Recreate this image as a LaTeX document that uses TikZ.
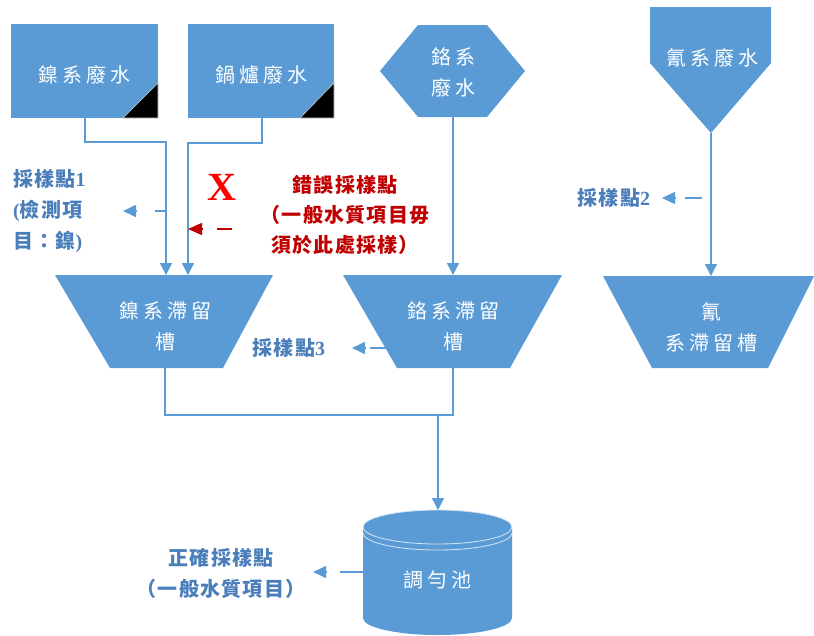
\documentclass[tikz,border=0pt]{standalone}
\usepackage{fontspec}
\newfontfamily\cjk{Noto Sans CJK TC}[LetterSpace=20]
\newfontfamily\cjkl{Noto Sans CJK TC}[LetterSpace=6]
\newfontfamily\lat{Liberation Serif}
\usetikzlibrary{arrows.meta,calc}
\definecolor{boxblue}{HTML}{5B9BD5}
\definecolor{lineblue}{HTML}{5B9BD5}
\definecolor{lblblue}{HTML}{4A7EBB}
\definecolor{errred}{HTML}{C00000}
\begin{document}
\begin{tikzpicture}[x=1pt,y=-1pt,
  shapefill/.style={fill=boxblue},
  shapetext/.style={text=white, font=\cjk\fontsize{20}{31}\selectfont, align=center, inner sep=0pt},
  flow/.style={draw=lineblue, line width=1.3pt, -{Triangle[width=12pt,length=12pt]}},
  flowline/.style={draw=lineblue, line width=1.3pt},
  sampleline/.style={draw=lineblue, line width=1.5pt},
  samplehead/.style={draw=lineblue, line width=1.5pt, -{Triangle[width=12pt,length=13pt]}},
  errline/.style={draw=errred, line width=1.5pt},
  errhead/.style={draw=errred, line width=1.5pt, -{Triangle[width=12pt,length=14pt]}},
  lbl/.style={text=lblblue, font=\cjkl\bfseries\fontsize{20}{31}\selectfont, inner sep=0pt},
  errlbl/.style={text=errred, font=\cjkl\bfseries\fontsize{20}{30}\selectfont, inner sep=0pt, align=center},
  corner/.style={fill=black, draw=white!80!black, line width=0.6pt},
]
\useasboundingbox (0,0) rectangle (814,635);

% ---------- source shapes ----------
\fill[shapefill] (11,24) rectangle (158,118);
\filldraw[corner] (158,83) -- (158,118) -- (123,118) -- cycle;
\node[shapetext] (niw) at (84,75) {鎳系廢水};
\fill[shapefill] (188,24) rectangle (334,118);
\filldraw[corner] (334,83) -- (334,118) -- (300,118) -- cycle;
\node[shapetext] (blw) at (261,75) {鍋爐廢水};
\fill[shapefill] (380,71) -- (418,25) -- (487,25) -- (525,71) -- (487,117) -- (418,117) -- cycle;
\node[shapetext] (crw) at (453,72.5) {鉻系\\廢水};
\fill[shapefill] (650,7) -- (771,7) -- (771,63) -- (711,133) -- (650,63) -- cycle;
\node[shapetext] (cnw) at (712,58) {氰系廢水};

% ---------- tanks ----------
\fill[shapefill] (55,275) -- (273,275) -- (223,368) -- (110,368) -- cycle;
\node[shapetext] (nit) at (165,326) {鎳系滯留\\槽};
\fill[shapefill] (343,275) -- (562,275) -- (510,368) -- (397,368) -- cycle;
\node[shapetext] (crt) at (453,326) {鉻系滯留\\槽};
\fill[shapefill] (603,276) -- (814,276) -- (768,368) -- (652,368) -- cycle;
\node[shapetext] (cnt) at (711,327) {氰\\系滯留槽};

% ---------- equalization pool (cylinder) ----------
\fill[shapefill] (363,527) -- (363,618)
  arc[start angle=180, end angle=360, x radius=74.5pt, y radius=17pt]
  -- (512,527)
  arc[start angle=0, end angle=180, x radius=74.5pt, y radius=17pt] -- cycle;
\draw[white!75!boxblue, line width=0.8pt] (437.5,527) ellipse[x radius=74.5pt, y radius=17pt];
\draw[white!75!boxblue, line width=0.8pt] (363,533)
  arc[start angle=180, end angle=360, x radius=74.5pt, y radius=17pt];
\node[shapetext] (pool) at (437,580) {調勻池};

% ---------- connection points ----------
\coordinate (niwout) at (85,118);
\coordinate (blwout) at (262,118);
\coordinate (crwout) at (453,117);
\coordinate (cnwout) at (711,133);
\coordinate (nitin1) at (166,275);
\coordinate (nitin2) at (188,275);
\coordinate (crtin) at (453,275);
\coordinate (cntin) at (711,276);
\coordinate (nitout) at (165,368);
\coordinate (crtout) at (453,368);
\coordinate (junc) at (438,415);
\coordinate (poolin) at (438,510);

% ---------- flow connectors ----------
\draw[flow] (niwout) -- ++(0,24) -| (nitin1);
\draw[flow] (blwout) -- ++(0,25) -| (nitin2);
\draw[flow] (crwout) -- (crtin);
\draw[flow] (cnwout) -- (cntin);
\draw[flowline] (nitout) -- ++(0,47) -| (crtout);
\draw[flow] (junc) -- (poolin);

% ---------- sampling labels ----------
\node[lbl, align=left, anchor=west] (sp1) at (13,211) {採樣點{\lat\bfseries 1}\\{\lat\bfseries (}檢測項\\目：鎳{\lat\bfseries )}};
\node[text=red, font=\lat\bfseries\fontsize{40}{40}\selectfont, inner sep=0pt] (xmark) at (222,187) {X};
\node[errlbl] (err) at (345,215) {錯誤採樣點\\（一般水質項目毋\\須於此處採樣）};
\node[lbl] (sp2) at (614,198) {採樣點{\lat\bfseries 2}};
\node[lbl] (sp3) at (289,348) {採樣點{\lat\bfseries 3}};
\node[lbl, align=center] (ok) at (221,573) {正確採樣點\\（一般水質項目）};

% dash segments (start, end) and arrow tips
\coordinate (sp1a) at (166,211); \coordinate (sp1b) at (155,211); \coordinate (sp1tip) at (123,211);
\coordinate (erra) at (232,229); \coordinate (errb) at (217,229); \coordinate (errtip) at (188,229);
\coordinate (sp2a) at (702,198); \coordinate (sp2b) at (685,198); \coordinate (sp2tip) at (662,198);
\coordinate (sp3a) at (386,348); \coordinate (sp3b) at (370,348); \coordinate (sp3tip) at (352,348);
\coordinate (oka) at (363,572); \coordinate (okb) at (340,572); \coordinate (oktip) at (313,572);

\draw[sampleline] (sp1a) -- (sp1b);
\draw[samplehead] ($(sp1tip)!14pt!(sp1a)$) -- (sp1tip);
\draw[errline] (erra) -- (errb);
\draw[errhead] ($(errtip)!15pt!(erra)$) -- (errtip);
\draw[sampleline] (sp2a) -- (sp2b);
\draw[samplehead] ($(sp2tip)!14pt!(sp2a)$) -- (sp2tip);
\draw[sampleline] (sp3a) -- (sp3b);
\draw[samplehead] ($(sp3tip)!14pt!(sp3a)$) -- (sp3tip);
\draw[sampleline] (oka) -- (okb);
\draw[samplehead] ($(oktip)!14pt!(oka)$) -- (oktip);
\end{tikzpicture}
\end{document}
